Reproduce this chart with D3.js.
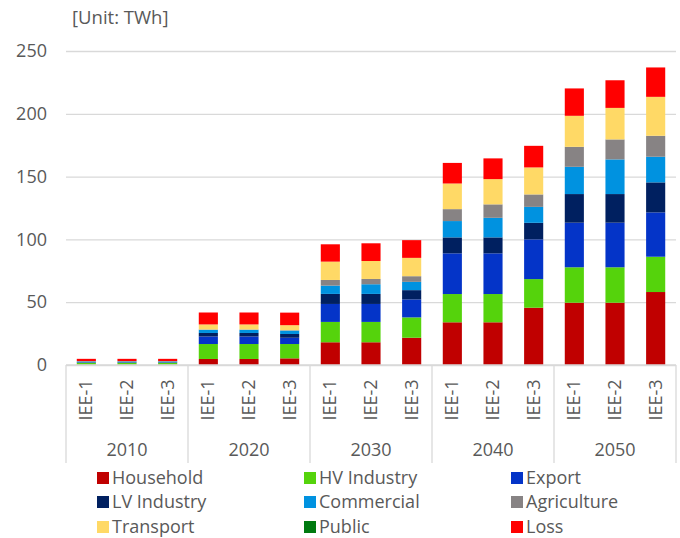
<!DOCTYPE html>
<html>
<head>
<meta charset="utf-8">
<script src="https://cdn.jsdelivr.net/npm/d3@7/dist/d3.min.js"></script>
<style>
  html, body { margin: 0; padding: 0; background: #fff; }
  svg { display: block; font-family: "Open Sans", "Liberation Sans", sans-serif; }
</style>
</head>
<body>
<svg id="chart" width="680" height="538"></svg>
<script>
// ---- Data (TWh) ----
const years = ["2010", "2020", "2030", "2040", "2050"];
const scenarios = ["IEE-1", "IEE-2", "IEE-3"];
const seriesNames = ["Household", "HV Industry", "Export", "LV Industry", "Commercial", "Agriculture", "Transport", "Public", "Loss"];
const seriesColors = ["#C00000", "#55D30C", "#0434C8", "#002060", "#0092E0", "#878384", "#FFD966", "#007A10", "#FF0000"];
// values per bar, order: 2010 IEE-1..3, 2020 IEE-1..3, 2030..., 2040..., 2050...
const household  = [0.3, 0.3, 0.3,  4.8, 4.8, 5.3,  18.1, 18.1, 21.7,  34.0, 34.0, 45.6,  49.6, 49.6, 58.1];
const hvIndustry = [1.4, 1.4, 1.4, 11.9, 11.9, 11.4, 16.2, 16.2, 16.2,  22.5, 22.5, 22.8,  28.2, 28.2, 28.1];
const exportVals = [0.0, 0.0, 0.0,  6.0, 6.0, 5.0,  14.3, 14.3, 14.3,  32.4, 32.4, 31.6,  35.5, 35.5, 35.3];
const lvIndustry = [0.4, 0.4, 0.4,  2.8, 2.8, 3.0,   8.0, 8.0, 7.4,    12.7, 12.7, 13.2,  22.8, 22.8, 23.9];
const commercial = [0.8, 0.8, 0.8,  2.5, 2.5, 2.7,   6.6, 7.7, 6.6,    13.0, 15.6, 12.7,  21.7, 27.6, 20.4];
const agriculture= [0.1, 0.1, 0.1,  0.3, 0.3, 0.3,   4.5, 4.2, 4.5,     9.5, 10.7, 9.9,   15.9, 15.9, 16.7];
const transport  = [0.1, 0.1, 0.1,  4.0, 4.0, 4.0,  14.6, 14.3, 14.6,  20.4, 20.1, 21.5,  24.7, 25.1, 31.0];
const publicVals = [0, 0, 0, 0, 0, 0, 0, 0, 0, 0, 0, 0, 0, 0, 0];
const loss       = [1.8, 1.8, 1.8,  9.5, 9.5, 10.0, 13.8, 14.1, 14.1,  16.4, 16.5, 17.2,  21.8, 22.0, 23.4];
const yTicks = [0, 50, 100, 150, 200, 250];
const unitLabel = "[Unit: TWh]";

// ---- Build table ----
const seriesData = [household, hvIndustry, exportVals, lvIndustry, commercial, agriculture, transport, publicVals, loss];
const cats = [];
years.forEach(yr => scenarios.forEach(s => cats.push(yr + "|" + s)));
const rows = cats.map((c, i) => {
  const r = { key: c };
  seriesNames.forEach((n, j) => r[n] = seriesData[j][i]);
  return r;
});

// ---- Layout ----
const svg = d3.select("#chart");
const plotL = 66, plotR = 676, plotT = 51, plotB = 365;
const textColor = "#595959", gridColor = "#D9D9D9";

const y = d3.scaleLinear().domain([0, 250]).range([plotB, plotT]);
const x = d3.scaleBand().domain(cats).range([plotL, plotR]).paddingInner(0.53).paddingOuter(0.265);
const xYear = d3.scaleBand().domain(years).range([plotL, plotR]);

// gridlines
svg.append("g")
  .attr("transform", `translate(${plotL},0)`)
  .call(d3.axisLeft(y).tickValues(yTicks).tickSize(-(plotR - plotL)).tickFormat(""))
  .call(g => g.select(".domain").remove())
  .call(g => g.selectAll("line").attr("stroke", gridColor).attr("stroke-width", 1.3));

// y labels
svg.append("g")
  .attr("transform", `translate(47,0)`)
  .call(d3.axisLeft(y).tickValues(yTicks).tickSize(0).tickPadding(0))
  .call(g => g.select(".domain").remove())
  .call(g => g.selectAll("text").attr("fill", textColor).style("font-size", "18px")
      .style("font-family", "'Open Sans', sans-serif"));

// unit label
svg.append("text").attr("x", 72).attr("y", 24).attr("fill", textColor)
  .style("font-size", "18.5px").text(unitLabel);

// stacked bars
const stack = d3.stack().keys(seriesNames)(rows);
svg.append("g").selectAll("g")
  .data(stack).join("g")
  .attr("fill", (d, i) => seriesColors[i])
  .selectAll("rect")
  .data(d => d).join("rect")
  .attr("x", d => x(d.data.key))
  .attr("width", x.bandwidth())
  .attr("y", d => y(d[1]))
  .attr("height", d => Math.max(0, y(d[0]) - y(d[1])));

// x axis baseline
svg.append("line").attr("x1", plotL).attr("x2", plotR).attr("y1", y(0)).attr("y2", y(0))
  .attr("stroke", gridColor).attr("stroke-width", 1.3);

// group separators
const seps = years.map(yr => xYear(yr)).concat([plotR]);
svg.append("g").selectAll("line").data(seps).join("line")
  .attr("x1", d => d).attr("x2", d => d)
  .attr("y1", y(0)).attr("y2", 463)
  .attr("stroke", gridColor).attr("stroke-width", 1.3);

// inner tick labels (rotated)
const xAxis = svg.append("g")
  .attr("transform", `translate(0,${y(0)})`)
  .call(d3.axisBottom(x).tickSize(0).tickFormat(d => d.split("|")[1]))
  .call(g => g.select(".domain").remove());
xAxis.selectAll("text")
  .attr("fill", textColor)
  .style("font-size", "18px")
  .style("font-family", "'Open Sans', sans-serif")
  .attr("text-anchor", "middle")
  .attr("dy", null)
  .attr("y", 0)
  .attr("transform", "translate(6,35) rotate(-90)");

// year labels
svg.append("g").selectAll("text").data(years).join("text")
  .attr("x", d => xYear(d) + xYear.bandwidth() / 2)
  .attr("y", 456)
  .attr("text-anchor", "middle")
  .attr("fill", textColor)
  .style("font-size", "18px")
  .text(d => d);

// legend
const legCols = [97, 304, 511];
const legRows = [478, 502, 527];
const legend = svg.append("g").selectAll("g").data(seriesNames).join("g")
  .attr("transform", (d, i) => `translate(${legCols[i % 3]},${legRows[Math.floor(i / 3)]})`);
legend.append("rect").attr("x", 0).attr("y", -6).attr("width", 12).attr("height", 12)
  .attr("fill", (d, i) => seriesColors[i]);
legend.append("text").attr("x", 15).attr("y", 0).attr("dy", "0.35em")
  .attr("fill", textColor).style("font-size", "18px").text(d => d);
</script>
</body>
</html>
